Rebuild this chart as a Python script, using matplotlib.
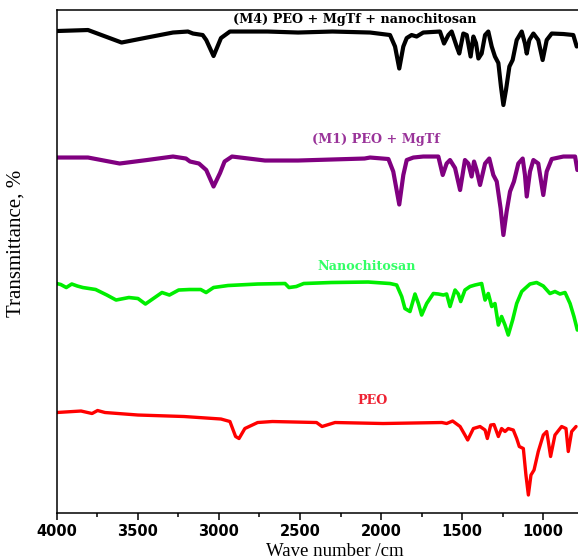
import numpy as np
import matplotlib
import matplotlib.pyplot as plt
from matplotlib.ticker import MultipleLocator

matplotlib.use('Agg')

# Spectra: wave number (cm-1) and transmittance (a.u., stacked)
m4_wn = [4000, 3807, 3600, 3443, 3283, 3191, 3160, 3100, 3078, 3033, 2987, 2932, 2700, 2512,
         2300, 2068, 1945, 1914, 1888, 1863, 1842, 1812, 1781, 1740, 1637, 1612, 1585, 1565,
         1534, 1518, 1493, 1472, 1448, 1431, 1415, 1400, 1380, 1359, 1339, 1318, 1298, 1277,
         1261, 1246, 1230, 1209, 1189, 1164, 1133, 1113, 1102, 1086, 1061, 1031, 1004, 979,
         948, 876, 815, 794]
m4_t = [96.4, 96.6, 94.1, 95.1, 96.1, 96.3, 95.9, 95.6, 94.6, 91.4, 95.0, 96.3, 96.3, 96.1,
        96.3, 96.1, 95.6, 93.3, 88.9, 93.3, 95.0, 95.6, 95.3, 96.1, 96.3, 93.9, 95.6, 96.3,
        93.3, 91.9, 95.9, 95.6, 91.3, 95.3, 94.0, 90.9, 91.9, 95.6, 96.3, 93.3, 91.3, 90.0,
        85.3, 81.6, 84.6, 89.3, 90.6, 94.6, 96.3, 93.9, 91.9, 94.6, 95.9, 94.6, 90.6, 94.6,
        95.9, 95.8, 95.6, 93.3]

m1_wn = [4000, 3807, 3612, 3443, 3283, 3203, 3178, 3123, 3078, 3033, 2993, 2965, 2919, 2716,
         2512, 2308, 2102, 2068, 1955, 1925, 1888, 1863, 1842, 1801, 1740, 1647, 1620, 1596,
         1575, 1544, 1513, 1483, 1462, 1442, 1427, 1411, 1390, 1359, 1333, 1308, 1287, 1263,
         1246, 1226, 1205, 1181, 1154, 1127, 1113, 1102, 1082, 1061, 1031, 1000, 979, 948,
         876, 804, 790]
m1_t = [71.1, 71.1, 69.9, 70.6, 71.3, 70.9, 70.3, 69.9, 68.6, 65.3, 68.0, 70.3, 71.3, 70.5,
        70.5, 70.7, 70.9, 71.1, 70.8, 68.3, 61.7, 67.6, 70.6, 71.1, 71.3, 71.3, 67.6, 69.9,
        70.6, 69.0, 64.6, 70.6, 69.9, 67.3, 70.3, 68.6, 65.6, 69.9, 70.9, 67.6, 66.3, 60.9,
        55.6, 60.3, 64.3, 66.3, 69.9, 70.9, 67.6, 63.3, 68.3, 70.6, 69.9, 63.6, 68.3, 70.8,
        71.3, 71.3, 68.6]

chit_wn = [4000, 3975, 3941, 3907, 3873, 3839, 3760, 3691, 3634, 3555, 3499, 3453, 3351, 3305,
           3248, 3181, 3112, 3079, 3033, 2944, 2761, 2592, 2568, 2523, 2477, 2308, 2080, 1945,
           1904, 1873, 1853, 1822, 1791, 1770, 1750, 1719, 1678, 1647, 1616, 1596, 1575, 1544,
           1524, 1509, 1483, 1452, 1421, 1380, 1359, 1339, 1318, 1298, 1277, 1257, 1236, 1216,
           1189, 1164, 1133, 1113, 1082, 1041, 1000, 959, 928, 897, 866, 835, 811, 790]
chit_t = [45.9, 45.7, 45.1, 45.8, 45.4, 45.1, 44.7, 43.6, 42.6, 43.1, 42.9, 41.8, 44.1, 43.6,
          44.6, 44.7, 44.7, 44.1, 45.1, 45.5, 45.8, 45.9, 45.1, 45.3, 45.9, 46.1, 46.2, 45.9,
          45.6, 43.3, 40.9, 40.3, 43.8, 41.9, 39.6, 41.9, 43.9, 43.8, 43.6, 43.8, 41.3, 44.6,
          43.8, 42.3, 44.6, 45.3, 45.6, 45.9, 42.6, 43.9, 41.3, 41.9, 37.6, 39.3, 37.6, 35.6,
          38.6, 41.9, 44.3, 44.9, 45.8, 46.1, 45.4, 43.9, 44.3, 43.8, 44.1, 41.9, 39.3, 36.6]

peo_wn = [4000, 3850, 3782, 3748, 3702, 3499, 3215, 2987, 2932, 2897, 2876, 2840, 2761, 2670,
          2398, 2364, 2284, 1988, 1625, 1596, 1559, 1513, 1483, 1466, 1431, 1390, 1359, 1345,
          1324, 1304, 1277, 1257, 1236, 1216, 1185, 1164, 1148, 1123, 1107, 1092, 1076, 1057,
          1031, 1000, 979, 969, 955, 928, 887, 860, 846, 825, 798]
peo_t = [20.1, 20.4, 19.9, 20.5, 20.1, 19.6, 19.3, 18.8, 18.3, 15.3, 14.9, 16.9, 18.1, 18.3,
         18.1, 17.3, 18.1, 17.9, 18.1, 17.9, 18.4, 17.3, 15.6, 14.6, 16.9, 17.3, 16.6, 14.9,
         17.6, 17.7, 15.3, 16.9, 16.3, 16.9, 16.6, 14.9, 13.3, 12.9, 7.6, 3.6, 7.6, 8.6,
         12.3, 15.6, 16.3, 14.3, 11.3, 15.6, 17.3, 16.9, 12.3, 16.3, 17.3]

labels = ['(M4) PEO + MgTf + nanochitosan', '(M1) PEO + MgTf', 'Nanochitosan', 'PEO']
label_pos = [(2160, 98.8), (2030, 74.8), (2090, 49.4), (2050, 22.6)]
line_colors = ['#000000', '#800080', '#00ee00', '#ff0000']
text_colors = ['#000000', '#993399', '#33ff66', '#ee2233']

fig = plt.figure(figsize=(5.78, 5.6), dpi=100)
ax = fig.add_axes([0.0981, 0.0839, 0.9019, 0.8982])

series = [(m4_wn, m4_t), (m1_wn, m1_t), (chit_wn, chit_t), (peo_wn, peo_t)]
widths = [3.0, 3.0, 2.6, 2.4]
for (wn, t), c, lw in zip(series, line_colors, widths):
    ax.plot(wn, t, color=c, lw=lw, solid_joinstyle='round', solid_capstyle='round')

for txt, (x, y), c in zip(labels, label_pos, text_colors):
    ax.text(x, y, txt, color=c, fontsize=9.2, fontweight='bold', family='DejaVu Serif',
            ha='center', va='center')

ax.set_xlim(4000, 786)
ax.set_ylim(0, 100.6)
ax.xaxis.set_major_locator(MultipleLocator(500))
ax.xaxis.set_minor_locator(MultipleLocator(250))
ax.set_yticks([])
ax.tick_params(axis='x', which='major', direction='out', length=5, width=1.1, pad=3,
               labelsize=10.5)
ax.tick_params(axis='x', which='minor', direction='out', length=3, width=1.1)
for lab in ax.get_xticklabels():
    lab.set_fontweight('bold')
    lab.set_family('DejaVu Sans')

ax.spines['right'].set_visible(False)
for s in ['left', 'top', 'bottom']:
    ax.spines[s].set_linewidth(1.1)

fig.text(16 / 578, 1 - 243 / 560, 'Transmittance, %', rotation=90, ha='center', va='center',
         family='Liberation Serif', fontsize=15)
fig.text(335 / 578, 1 - 551 / 560, 'Wave number /cm', ha='center', va='center',
         family='Liberation Serif', fontsize=13.5)

fig.savefig('out.png', dpi=100)
